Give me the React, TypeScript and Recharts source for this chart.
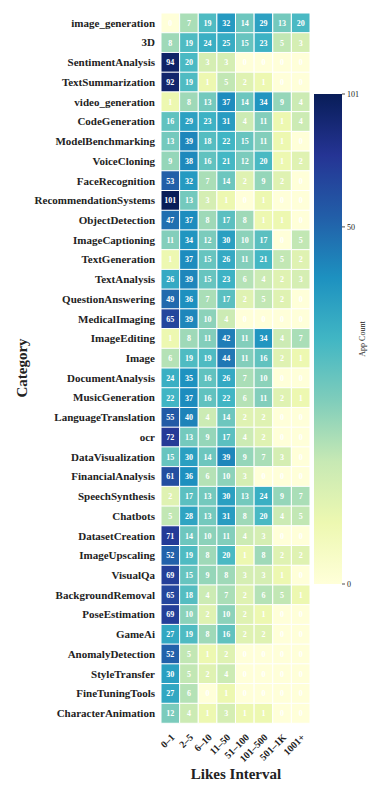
import { Bar, BarChart, Cell, LabelList, XAxis, YAxis } from "recharts";

const CATEGORIES = [
  "image_generation", "3D", "SentimentAnalysis", "TextSummarization", "video_generation",
  "CodeGeneration", "ModelBenchmarking", "VoiceCloning", "FaceRecognition", "RecommendationSystems",
  "ObjectDetection", "ImageCaptioning", "TextGeneration", "TextAnalysis", "QuestionAnswering",
  "MedicalImaging", "ImageEditing", "Image", "DocumentAnalysis", "MusicGeneration",
  "LanguageTranslation", "ocr", "DataVisualization", "FinancialAnalysis", "SpeechSynthesis",
  "Chatbots", "DatasetCreation", "ImageUpscaling", "VisualQa", "BackgroundRemoval",
  "PoseEstimation", "GameAi", "AnomalyDetection", "StyleTransfer", "FineTuningTools",
  "CharacterAnimation",
];

const INTERVALS = ["0–1", "2–5", "6–10", "11–50", "51–100", "101–500", "501–1K", "1001+"];

// app counts per category, one entry per likes interval
const COUNTS: number[][] = [
  [0, 7, 19, 32, 14, 29, 13, 20],
  [8, 19, 24, 25, 15, 23, 5, 3],
  [94, 20, 3, 3, 0, 0, 0, 0],
  [92, 19, 1, 5, 2, 1, 0, 0],
  [1, 8, 13, 37, 14, 34, 9, 4],
  [16, 29, 23, 31, 4, 11, 1, 4],
  [13, 39, 18, 22, 15, 11, 1, 0],
  [9, 38, 16, 21, 12, 20, 1, 2],
  [53, 32, 7, 14, 2, 9, 2, 0],
  [101, 13, 3, 1, 0, 1, 0, 0],
  [47, 37, 8, 17, 8, 1, 1, 0],
  [11, 34, 12, 30, 10, 17, 0, 5],
  [1, 37, 15, 26, 11, 21, 5, 2],
  [26, 39, 15, 23, 6, 4, 2, 3],
  [49, 36, 7, 17, 2, 5, 2, 0],
  [65, 39, 10, 4, 0, 0, 0, 0],
  [1, 8, 11, 42, 11, 34, 4, 7],
  [6, 19, 19, 44, 11, 16, 2, 1],
  [24, 35, 16, 26, 7, 10, 0, 0],
  [22, 37, 16, 22, 6, 11, 2, 1],
  [55, 40, 4, 14, 2, 2, 0, 0],
  [72, 13, 9, 17, 4, 2, 0, 0],
  [15, 30, 14, 39, 9, 7, 3, 0],
  [61, 36, 6, 10, 3, 0, 0, 0],
  [2, 17, 13, 30, 13, 24, 9, 7],
  [5, 28, 13, 31, 8, 20, 4, 5],
  [71, 14, 10, 11, 4, 3, 0, 0],
  [52, 19, 8, 20, 1, 8, 2, 2],
  [69, 15, 9, 8, 3, 3, 1, 0],
  [65, 18, 4, 7, 2, 6, 5, 1],
  [69, 10, 2, 10, 2, 1, 0, 0],
  [27, 19, 8, 16, 2, 2, 0, 0],
  [52, 5, 1, 2, 0, 0, 0, 0],
  [30, 5, 2, 4, 0, 0, 0, 0],
  [27, 6, 0, 1, 0, 0, 0, 0],
  [12, 4, 1, 3, 1, 1, 0, 0],
];

const MAX_COUNT = 101;
const COLORBAR_TICKS = [0, 50, 101];

const YLGNBU = [
  "#ffffd9", "#edf8b1", "#c7e9b4", "#7fcdbb", "#41b6c4",
  "#1d91c0", "#225ea8", "#253494", "#081d58",
];
const GAMMA = 0.45;
const SERIF = "'Liberation Serif', 'Times New Roman', serif";

function norm(v: number) {
  return Math.pow(v / MAX_COUNT, GAMMA);
}

function hexToRgb(h: string) {
  return [1, 3, 5].map((i) => parseInt(h.slice(i, i + 2), 16));
}

function colorAt(t: number) {
  const p = Math.max(0, Math.min(1, t)) * (YLGNBU.length - 1);
  const i = Math.min(Math.floor(p), YLGNBU.length - 2);
  const f = p - i;
  const a = hexToRgb(YLGNBU[i]);
  const b = hexToRgb(YLGNBU[i + 1]);
  const c = a.map((v, k) => Math.round(v + (b[k] - v) * f));
  return `rgb(${c[0]},${c[1]},${c[2]})`;
}

const rows = CATEGORIES.map((name, r) => {
  const row: Record<string, string | number> = { name };
  INTERVALS.forEach((_, c) => {
    row[`span${c}`] = 1;
    row[`count${c}`] = COUNTS[r][c];
  });
  return row;
});

function CellLabel(props: any) {
  const { x, y, width, height, value } = props;
  return (
    <text
      x={Number(x) + Number(width) / 2}
      y={Number(y) + Number(height) / 2}
      dy="0.35em"
      textAnchor="middle"
      fill="#fff"
      fontSize={8}
      fontWeight="bold"
      fontFamily={SERIF}
    >
      {value}
    </text>
  );
}

function IntervalTick(props: any) {
  const { x, y, payload } = props;
  const label = INTERVALS[Math.round(payload.value - 0.5)];
  const tx = x;
  const ty = y + 2;
  return (
    <text
      x={tx}
      y={ty}
      transform={`rotate(-45 ${tx} ${ty})`}
      textAnchor="end"
      dy="0.7em"
      fill="#222"
      fontSize={10}
      fontWeight="bold"
      fontFamily={SERIF}
    >
      {label}
    </text>
  );
}

const BAR_TOP = 94;
const BAR_BOTTOM = 584;

export default function App() {
  return (
    <div style={{ position: "absolute", left: 0, top: 0, width: 381, height: 791, background: "#fff" }}>
      <BarChart
        width={381}
        height={791}
        data={rows}
        layout="vertical"
        barCategoryGap={0}
        barGap={0}
        margin={{ top: 13, right: 71, left: 0, bottom: 8 }}
      >
        <XAxis
          type="number"
          domain={[0, INTERVALS.length]}
          ticks={INTERVALS.map((_, i) => i + 0.5)}
          interval={0}
          height={60}
          axisLine={false}
          tickLine={false}
          tick={<IntervalTick />}
        />
        <YAxis
          type="category"
          dataKey="name"
          width={161}
          interval={0}
          axisLine={false}
          tickLine={false}
          tickSize={4}
          tickMargin={2}
          tick={{ fill: "#222", fontSize: 11, fontWeight: "bold", fontFamily: SERIF }}
        />
        {INTERVALS.map((iv, c) => (
          <Bar
            key={iv}
            dataKey={`span${c}`}
            stackId="heat"
            isAnimationActive={false}
            stroke="#fff"
            strokeWidth={1}
          >
            {rows.map((_, r) => (
              <Cell key={r} fill={colorAt(norm(COUNTS[r][c]))} />
            ))}
            <LabelList dataKey={`count${c}`} content={CellLabel} />
          </Bar>
        ))}
      </BarChart>
      <svg
        width={381}
        height={791}
        style={{ position: "absolute", left: 0, top: 0, pointerEvents: "none" }}
      >
        <defs>
          <linearGradient id="cbar" x1="0" y1="1" x2="0" y2="0">
            {YLGNBU.map((col, i) => (
              <stop key={col} offset={i / (YLGNBU.length - 1)} stopColor={col} />
            ))}
          </linearGradient>
        </defs>
        <rect x={314} y={BAR_TOP} width={28} height={BAR_BOTTOM - BAR_TOP} fill="url(#cbar)" />
        {COLORBAR_TICKS.map((t) => {
          const ty = BAR_BOTTOM - norm(t) * (BAR_BOTTOM - BAR_TOP);
          return (
            <g key={t}>
              <line x1={342} x2={345} y1={ty} y2={ty} stroke="#222" strokeWidth={0.8} />
              <text x={347} y={ty} dy="0.35em" fontSize={8} fill="#222" fontFamily={SERIF}>
                {t}
              </text>
            </g>
          );
        })}
        <text
          x={365}
          y={339}
          transform="rotate(-90 365 339)"
          textAnchor="middle"
          fontSize={8}
          fill="#222"
          fontFamily={SERIF}
        >
          App Count
        </text>
        <text
          x={27}
          y={368}
          transform="rotate(-90 27 368)"
          textAnchor="middle"
          fontSize={15}
          fontWeight="bold"
          fill="#222"
          fontFamily={SERIF}
        >
          Category
        </text>
        <text
          x={236}
          y={779}
          textAnchor="middle"
          fontSize={15}
          fontWeight="bold"
          fill="#222"
          fontFamily={SERIF}
        >
          Likes Interval
        </text>
      </svg>
    </div>
  );
}
